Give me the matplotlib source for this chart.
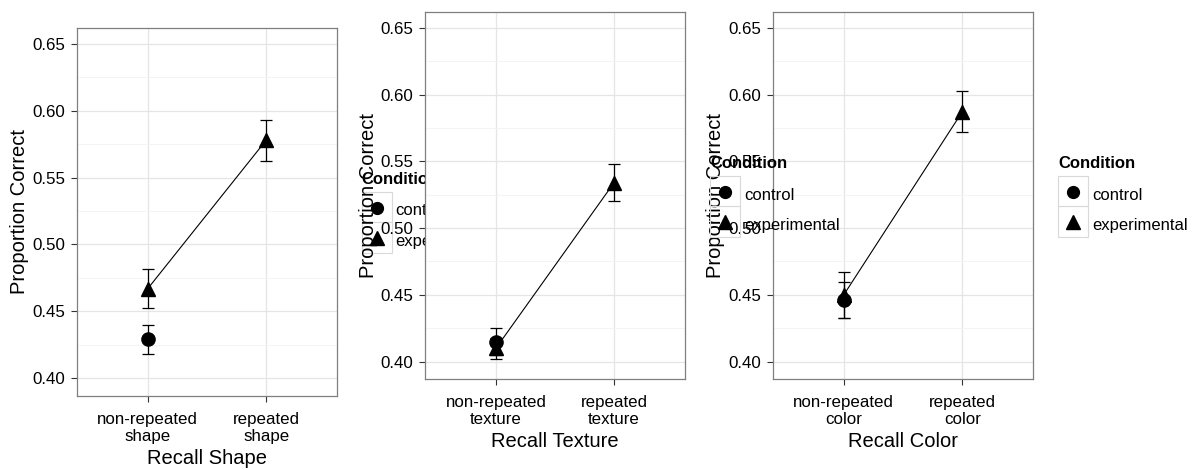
import matplotlib
matplotlib.use("Agg")
import matplotlib.pyplot as plt
from matplotlib.patches import Rectangle
from matplotlib.lines import Line2D
from matplotlib.ticker import FormatStrFormatter

plt.rcParams['font.family'] = ['Liberation Sans', 'DejaVu Sans']

# --- data ---
levels = [1, 2]
conditions = ["control", "experimental"]

shape_ticks = ["non-repeated\nshape", "repeated\nshape"]
texture_ticks = ["non-repeated\ntexture", "repeated\ntexture"]
color_ticks = ["non-repeated\ncolor", "repeated\ncolor"]

# control only measured at the non-repeated level
ctrl_shape = [0.429]
ctrl_shape_se = [0.0108]
exp_shape = [0.467, 0.578]
exp_shape_se = [0.0148, 0.0153]

ctrl_texture = [0.415]
ctrl_texture_se = [0.010]
exp_texture = [0.410, 0.534]
exp_texture_se = [0.008, 0.0138]

ctrl_color = [0.446]
ctrl_color_se = [0.0137]
exp_color = [0.450, 0.587]
exp_color_se = [0.0171, 0.0153]

y_major = [0.40, 0.45, 0.50, 0.55, 0.60, 0.65]
y_minor = [0.425, 0.475, 0.525, 0.575, 0.625]

W, H = 1193, 470


def fx(px):
    return px / W


def fy(py):
    return 1 - py / H


def box(left, right, top, bottom):
    return [fx(left), fy(bottom), (right - left) / W, (bottom - top) / H]


def draw_panel(ax, ticks, xlabel, c_mean, c_se, e_mean, e_se):
    ax.plot(levels, e_mean, color='black', lw=0.8, zorder=2)
    ax.errorbar(levels, e_mean, yerr=e_se, fmt='none', ecolor='black',
                elinewidth=0.9, capsize=4.5, capthick=0.9, zorder=3)
    ax.errorbar(levels[:len(c_mean)], c_mean, yerr=c_se, fmt='none', ecolor='black',
                elinewidth=0.9, capsize=4.5, capthick=0.9, zorder=3)
    ax.plot(levels, e_mean, '^', ms=10, color='black', zorder=4)
    ax.plot(levels[:len(c_mean)], c_mean, 'o', ms=9.5, color='black', zorder=4)

    ax.set_xlim(0.4, 2.6)
    ax.set_ylim(0.387, 0.662)
    ax.set_xticks(levels)
    ax.set_xticklabels(ticks, linespacing=1.15)
    ax.set_yticks(y_major)
    ax.set_yticks(y_minor, minor=True)
    ax.yaxis.set_major_formatter(FormatStrFormatter('%.2f'))
    ax.grid(which='major', color='#e5e5e5', lw=0.9)
    ax.grid(which='minor', axis='y', color='#f3f3f3', lw=0.6)
    ax.set_axisbelow(True)
    ax.tick_params(which='minor', length=0)
    ax.tick_params(which='major', length=4.3, width=0.8, color='#333333',
                   labelsize=12.2, labelcolor='black')
    ax.tick_params(axis='x', which='major', pad=7.5)
    ax.tick_params(axis='y', which='major', pad=4)
    for sp in ax.spines.values():
        sp.set_color('#7f7f7f')
        sp.set_linewidth(0.9)
    ax.set_xlabel(xlabel, fontsize=14.5, labelpad=3.5)
    ax.set_ylabel("Proportion Correct", fontsize=14.5, labelpad=2)


def draw_legend(fig, left, top, z):
    # left = key box left edge, top = title centre (pixels)
    fig.text(fx(left), fy(top), "Condition", fontweight='bold', fontsize=12,
             va='center', ha='left', zorder=z)
    for i, (lab, mk, ms) in enumerate(zip(conditions, ['o', '^'], [8.5, 10])):
        y0 = top + 12.7 + i * 30.3
        fig.add_artist(Rectangle((fx(left), fy(y0 + 30.3)), 30 / W, 30.3 / H,
                                 transform=fig.transFigure, fill=False,
                                 edgecolor='#d9d9d9', lw=0.8, zorder=z))
        fig.add_artist(Line2D([fx(left + 15)], [fy(y0 + 16)], marker=mk, ms=ms,
                              color='black', ls='none',
                              transform=fig.transFigure, zorder=z))
        fig.text(fx(left + 34), fy(y0 + 19), lab, fontsize=12, va='center',
                 zorder=z)


fig = plt.figure(figsize=(W / 100, H / 100), dpi=100)
fig.patch.set_facecolor('white')

ax1 = fig.add_axes(box(76.7, 337.3, 27.7, 395.7))
ax2 = fig.add_axes(box(425, 685, 11.7, 379))
ax3 = fig.add_axes(box(772.7, 1033.3, 11.7, 379))
for ax in (ax1, ax2, ax3):
    ax.set_facecolor('white')

draw_panel(ax1, shape_ticks, "Recall Shape", ctrl_shape, ctrl_shape_se, exp_shape, exp_shape_se)
draw_panel(ax2, texture_ticks, "Recall Texture", ctrl_texture, ctrl_texture_se, exp_texture, exp_texture_se)
draw_panel(ax3, color_ticks, "Recall Color", ctrl_color, ctrl_color_se, exp_color, exp_color_se)

# each stacked plot's legend: the first is hidden under panel 2, the second sits over panel 3
draw_legend(fig, 361.7, 179.3, -1)
draw_legend(fig, 710, 163.3, 5)
draw_legend(fig, 1058.3, 163.3, 5)

fig.savefig("out.png", dpi=100)
